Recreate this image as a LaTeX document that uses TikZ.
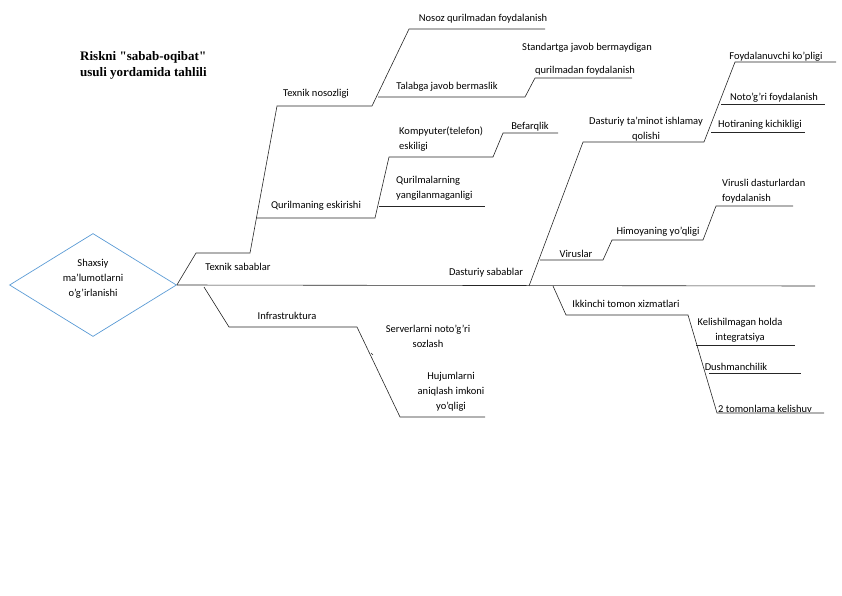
\documentclass[tikz,border=0pt]{standalone}
\usepackage{fontspec}
\setmainfont{Carlito}
\newfontfamily\titlefont{Liberation Serif}
\usetikzlibrary{shapes.geometric}
\definecolor{dblue}{HTML}{5B9BD5}
\begin{document}
\begin{tikzpicture}[x=1pt,y=-1pt,
  br/.style={draw=black!85,line width=0.6pt},
  lbl/.style={font=\fontsize{10.5}{15}\selectfont,inner sep=0pt,align=center},
  lbll/.style={lbl,align=left,anchor=west}]
\useasboundingbox (0,0) rectangle (842,596);
\node[font=\titlefont\bfseries\fontsize{13}{16}\selectfont,align=left,anchor=north west,inner sep=0pt] (title) at (80,51) {Riskni "sabab-oqibat"\\usuli yordamida tahlili};
\node[diamond,draw=dblue,line width=0.7pt,minimum width=167pt,minimum height=103pt,inner sep=0pt] (root) at (93,285) {};
\node[lbl] (roott) at (93,279) {Shaxsiy\\ma'lumotlarni\\o'g'irlanishi};
% coordinates
\coordinate (s0) at (root.east); \coordinate (s1) at (815,286);
\coordinate (a0) at (196,253); \coordinate (a1) at (250,253);
\coordinate (b0) at (277,106); \coordinate (b1) at (372,106);
\coordinate (c0) at (409,29); \coordinate (c1) at (545,29);
\coordinate (d0) at (378,97); \coordinate (d1) at (525,97);
\coordinate (e0) at (535,78); \coordinate (e1) at (632,78);
\coordinate (f0) at (256,218); \coordinate (f1) at (375,218);
\coordinate (g0) at (389,157); \coordinate (g1) at (493,157);
\coordinate (h0) at (503,133); \coordinate (h1) at (558,133);
\coordinate (i0) at (379,206); \coordinate (i1) at (485,206);
\coordinate (j0) at (529,286); \coordinate (j1) at (583,142); \coordinate (j2) at (704,142);
\coordinate (k0) at (735,62); \coordinate (k1) at (836,62);
\coordinate (l0) at (721,104); \coordinate (l1) at (825,104);
\coordinate (m0) at (711,132); \coordinate (m1) at (805,132);
\coordinate (n0) at (540,260); \coordinate (n1) at (603,260);
\coordinate (o0) at (612,240); \coordinate (o1) at (703,240);
\coordinate (p0) at (716,206); \coordinate (p1) at (793,206);
\coordinate (q0) at (204,287); \coordinate (q1) at (229,327); \coordinate (q2) at (357,327);
\coordinate (r0) at (400,417); \coordinate (r1) at (485,417);
\coordinate (u0) at (553,286); \coordinate (u1) at (566,315); \coordinate (u2) at (688,315);
\coordinate (v0) at (717,413); \coordinate (v1) at (824,413);
\coordinate (w0) at (709,373); \coordinate (w1) at (801,373);
\coordinate (x0) at (696,345); \coordinate (x1) at (795,345);
\coordinate (t0) at (371,353); \coordinate (t1) at (373,355);
% connectors
\draw[br] (s0) -- (s1);
\draw[br] (s0) -- (a0) -- (a1) -- (b0) -- (b1) -- (c0) -- (c1);
\draw[br] (d0) -- (d1) -- (e0) -- (e1);
\draw[br] (f0) -- (f1) -- (g0) -- (g1) -- (h0) -- (h1);
\draw[br] (i0) -- (i1);
\draw[br] (j0) -- (j1) -- (j2) -- (k0) -- (k1);
\draw[br] (l0) -- (l1);
\draw[br] (m0) -- (m1);
\draw[br] (n0) -- (n1) -- (o0) -- (o1) -- (p0) -- (p1);
\draw[br] (q0) -- (q1) -- (q2) -- (r0) -- (r1);
\draw[br] (t0) -- (t1);
\draw[br] (u0) -- (u1) -- (u2) -- (v0) -- (v1);
\draw[br] (w0) -- (w1);
\draw[br] (x0) -- (x1);
% labels
\node[lbl] (t1l) at (238,267) {Texnik sabablar};
\node[lbl] (t2l) at (316,94) {Texnik nosozligi};
\node[lbl] (t3l) at (483,19) {Nosoz qurilmadan foydalanish};
\node[lbl] (t4l) at (447,87) {Talabga javob bermaslik};
\node[lbl] (t5l) at (587,48) {Standartga javob bermaydigan};
\node[lbl] (t6l) at (585,71) {qurilmadan foydalanish};
\node[lbl] (t7l) at (316,206) {Qurilmaning eskirishi};
\node[lbll] (t8l) at (399,139) {Kompyuter(telefon)\\eskiligi};
\node[lbl] (t9l) at (530,127) {Befarqlik};
\node[lbll] (t10l) at (396,188) {Qurilmalarning\\yangilanmaganligi};
\node[lbl] (t11l) at (486,273) {Dasturiy sabablar};
\node[lbl] (t12l) at (646,129) {Dasturiy ta'minot ishlamay\\qolishi};
\node[lbl] (t13l) at (776,57) {Foydalanuvchi ko'pligi};
\node[lbl] (t14l) at (774,98) {Noto'g'ri foydalanish};
\node[lbl] (t15l) at (760,125) {Hotiraning kichikligi};
\node[lbl] (t16l) at (576,254) {Viruslar};
\node[lbl] (t17l) at (658,232) {Himoyaning yo'qligi};
\node[lbll] (t18l) at (722,191) {Virusli dasturlardan\\foydalanish};
\node[lbl] (t19l) at (287,316) {Infrastruktura};
\node[lbl] (t20l) at (428,336) {Serverlarni noto'g'ri\\sozlash};
\node[lbl] (t21l) at (451,392) {Hujumlarni\\aniqlash imkoni\\yo'qligi};
\node[lbl] (t22l) at (626,304) {Ikkinchi tomon xizmatlari};
\node[lbl] (t23l) at (740,330) {Kelishilmagan holda\\integratsiya};
\node[lbl] (t24l) at (736,367) {Dushmanchilik};
\node[lbl] (t25l) at (765,409) {2 tomonlama kelishuv};
\end{tikzpicture}
\end{document}
